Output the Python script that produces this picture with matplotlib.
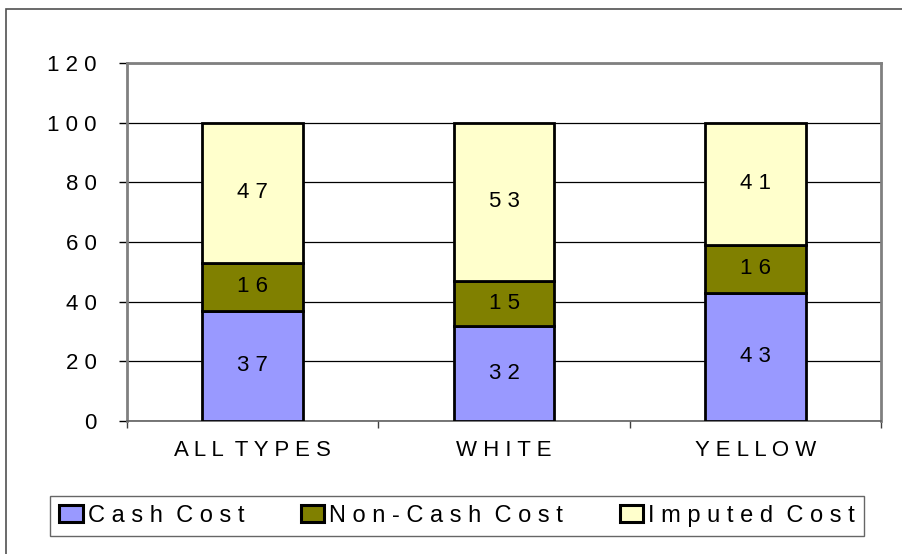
import matplotlib
matplotlib.use("Agg")
import matplotlib.pyplot as plt
from matplotlib.patches import Rectangle
import numpy as np

# ================== data ==================
categories = ["ALL TYPES", "WHITE", "YELLOW"]
cash_cost = [37, 32, 43]
non_cash_cost = [16, 15, 16]
imputed_cost = [47, 53, 41]
series_names = ["Cash Cost", "Non-Cash Cost", "Imputed Cost"]
colors = ["#9999FF", "#808000", "#FFFFCC"]
y_ticks = [0, 20, 40, 60, 80, 100, 120]

plt.rcParams["font.family"] = ["Liberation Sans", "DejaVu Sans"]
FS = 16
LEG_FS = 17


def spaced(s):
    # Excel-style letter spacing
    return "  ".join(" ".join(w) for w in s.split(" "))


fig = plt.figure(figsize=(9.02, 5.54), dpi=100)
ax = fig.add_axes([127 / 902, 133 / 554, 754 / 902, 358 / 554])

# outer chart frame
fig.patches.append(Rectangle((6 / 902, -0.05), 1.1, (554 - 9) / 554 + 0.05,
                             transform=fig.transFigure, fill=False,
                             edgecolor="#505050", linewidth=1.2))

x = np.arange(len(categories))
width = 0.4
bottoms = np.zeros(len(categories))
for vals, name, col in zip([cash_cost, non_cash_cost, imputed_cost], series_names, colors):
    ax.bar(x, vals, width, bottom=bottoms, color=col, edgecolor="black",
           linewidth=2.0, label=spaced(name), zorder=3)
    for xi, b, v in zip(x, bottoms, vals):
        ax.text(xi, b + v / 2, spaced(str(v)), ha="center", va="center",
                fontsize=FS, zorder=4)
    bottoms = bottoms + np.array(vals)

ax.set_xlim(-0.5, 2.5)
ax.set_ylim(0, 120)
ax.set_yticks(y_ticks)
ax.set_yticklabels([spaced(str(t)) for t in y_ticks], fontsize=FS)
ax.tick_params(axis="y", direction="out", length=6, width=1, pad=16, colors="black")

ax.set_xticks(x)
ax.set_xticklabels([spaced(c) for c in categories], fontsize=FS)
ax.set_xticks([-0.5, 0.5, 1.5, 2.5], minor=True)
ax.tick_params(axis="x", which="major", length=0, pad=14)
ax.tick_params(axis="x", which="minor", direction="out", length=5, width=1, color="#404040")

ax.yaxis.grid(True, color="black", linewidth=0.9, zorder=1)
ax.set_axisbelow(True)
for side in ["top", "right", "left"]:
    ax.spines[side].set_color("#808080")
    ax.spines[side].set_linewidth(2.0)
ax.spines["bottom"].set_color("#606060")
ax.spines["bottom"].set_linewidth(1.2)

leg = fig.legend(loc="center", bbox_to_anchor=(457 / 902, (554 - 516) / 554),
                 ncol=3, fontsize=LEG_FS, frameon=True, fancybox=False, shadow=False,
                 handlelength=1.0, handleheight=0.75, handletextpad=0.2,
                 columnspacing=2.4, borderpad=0.4, borderaxespad=0)
leg.get_frame().set_edgecolor("#404040")
leg.get_frame().set_linewidth(1.0)
for h in leg.legend_handles:
    h.set_linewidth(2.2)

fig.savefig("out.png", dpi=100)
